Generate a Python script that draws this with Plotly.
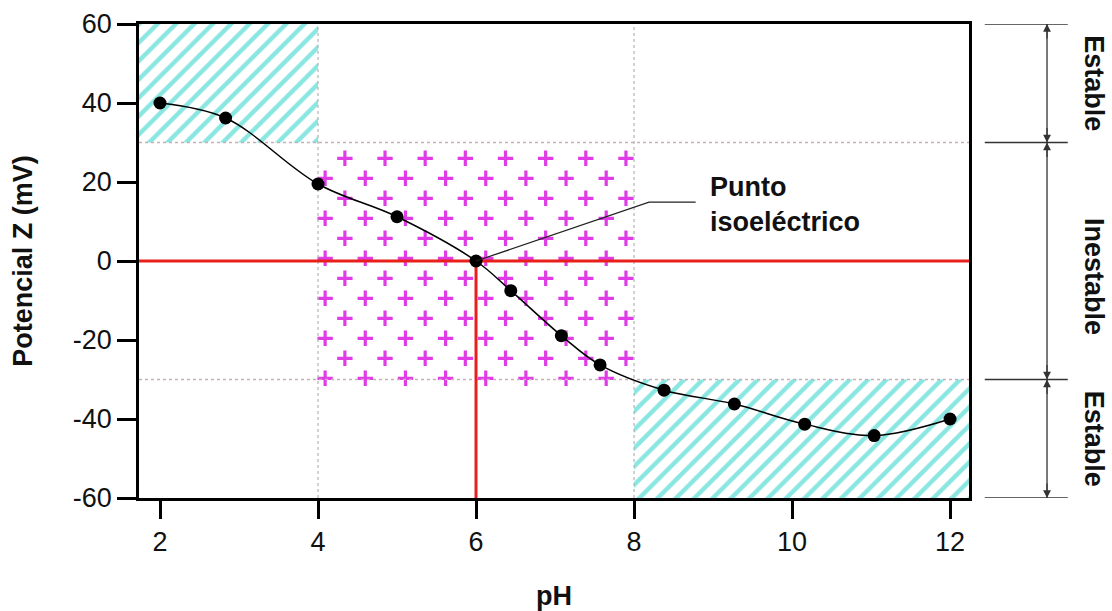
import numpy as np
import plotly.graph_objects as go

# ---- data ----
ph = [2.0, 2.83, 4.0, 5.0, 6.0, 6.44, 7.08, 7.57, 8.38, 9.27, 10.16, 11.04, 12.0]
zeta = [40.0, 36.2, 19.5, 11.2, 0.0, -7.5, -18.9, -26.3, -32.7, -36.2, -41.3, -44.2, -40.0]

x_range = [1.734, 12.24]
y_range = [-60, 60]
x_ticks = [2, 4, 6, 8, 10, 12]
y_ticks = [-60, -40, -20, 0, 20, 40, 60]
y_ticktext = ["-60", "-40", "-20", "0", "20", "40", "60"]

stable_limit = 30          # |zeta| above this -> stable
unstable_ph = [4, 8]       # pH band of the unstable region
iso_ph = 6.0               # isoelectric point

zone_labels = ["Estable", "Inestable", "Estable"]
zone_centers = [45, -4, -45]

FONT = "Liberation Sans, Arial, sans-serif"
CYAN = "#14cdc4"
MAGENTA = "#e03ce6"
RED = "#e8201c"
TXT = "#111"

fig = go.Figure()

# hatched stable regions
def rect(x0, x1, y0, y1):
    return [x0, x1, x1, x0, x0], [y0, y0, y1, y1, y0]

for (x0, x1, y0, y1) in [(x_range[0], unstable_ph[0], stable_limit, y_range[1]),
                         (unstable_ph[1], x_range[1], y_range[0], -stable_limit)]:
    xs, ys = rect(x0, x1, y0, y1)
    fig.add_trace(go.Scatter(
        x=xs, y=ys, mode="lines", fill="toself", line=dict(width=0),
        fillcolor="rgba(0,0,0,0)",
        fillpattern=dict(shape="/", fgcolor=CYAN, bgcolor="rgba(255,255,255,0)",
                         size=13, solidity=0.34),
        hoverinfo="skip", showlegend=False))

# plus texture of the unstable region (staggered grid)
row_step = 2 * stable_limit / 11.85
col_step = (unstable_ph[1] - unstable_ph[0]) / 7.87
px, py = [], []
for k in range(12):
    yv = stable_limit - 4 - k * row_step
    start = unstable_ph[0] + (0.34 if k % 2 == 0 else 0.09)
    for j in range(8):
        px.append(start + j * col_step)
        py.append(yv)
fig.add_trace(go.Scatter(
    x=px, y=py, mode="markers",
    marker=dict(symbol="cross-thin", size=11, color=MAGENTA,
                line=dict(color=MAGENTA, width=3.2)),
    hoverinfo="skip", showlegend=False))

# dotted guide lines
for yv in [stable_limit, -stable_limit]:
    fig.add_trace(go.Scatter(x=x_range, y=[yv, yv], mode="lines",
                             line=dict(color="#c9aeb6", width=1.3, dash="dot"),
                             hoverinfo="skip", showlegend=False))
for xv in unstable_ph:
    fig.add_trace(go.Scatter(x=[xv, xv], y=y_range, mode="lines",
                             line=dict(color="#b8b8b8", width=1.3, dash="dot"),
                             hoverinfo="skip", showlegend=False))

# red reference lines
fig.add_trace(go.Scatter(x=x_range, y=[0, 0], mode="lines",
                         line=dict(color=RED, width=3), hoverinfo="skip", showlegend=False))
fig.add_trace(go.Scatter(x=[iso_ph, iso_ph], y=[y_range[0], 0], mode="lines",
                         line=dict(color=RED, width=3), hoverinfo="skip", showlegend=False))

# measured curve
fig.add_trace(go.Scatter(
    x=ph, y=zeta, mode="lines+markers",
    line=dict(color="black", width=1.5, shape="spline", smoothing=1.0),
    marker=dict(color="black", size=13),
    showlegend=False))

shapes = []
# callout connector
shapes.append(dict(type="path", xref="x", yref="y",
                   path=f"M {iso_ph},0 L 8.19,14.9 L 8.78,14.9",
                   line=dict(color="#222", width=1.3), layer="above"))

# right-side dimension lines
XV = 1.094
for yv in [60, 30, -30, -60]:
    shapes.append(dict(type="line", xref="paper", yref="y", x0=1.019, x1=1.119,
                       y0=yv, y1=yv, line=dict(color="#333", width=1.3)))
shapes.append(dict(type="line", xref="paper", yref="y", x0=XV, x1=XV,
                   y0=60, y1=-60, line=dict(color="#333", width=1.3)))

annotations = [
    dict(x=8.94, y=14.4, xref="x", yref="y", text="<b>Punto<br>isoeléctrico</b>",
         showarrow=False, xanchor="left", yanchor="middle", align="left",
         font=dict(family=FONT, size=27, color=TXT)),
]
for lab, yc in zip(zone_labels, zone_centers):
    annotations.append(dict(x=1.1505, y=yc, xref="paper", yref="y", text=f"<b>{lab}</b>",
                            textangle=90, showarrow=False, xanchor="center",
                            yanchor="middle", borderpad=0,
                            font=dict(family=FONT, size=27, color=TXT)))
# arrowheads
for (yv, d) in [(60, 1), (30, -1), (30, 1), (-30, -1), (-30, 1), (-60, -1)]:
    annotations.append(dict(x=XV, y=yv, xref="paper", yref="y", ax=0, ay=16 * d,
                            axref="pixel", ayref="pixel", text="", showarrow=True,
                            arrowhead=2, arrowsize=1.3, arrowwidth=1.2,
                            arrowcolor="#333", standoff=0))

fig.update_layout(
    width=1112, height=611,
    margin=dict(l=139, r=143, t=24, b=113, autoexpand=False),
    paper_bgcolor="white", plot_bgcolor="white",
    font=dict(family=FONT, size=27, color=TXT),
    shapes=shapes, annotations=annotations,
    xaxis=dict(range=x_range, tickvals=x_ticks, ticks="outside", ticklen=18,
               tickwidth=2.5, tickcolor="black", showline=True, linecolor="black",
               linewidth=2.5, mirror=True, showgrid=False, zeroline=False,
               automargin=False,
               tickfont=dict(family=FONT, size=27, color=TXT),
               title=dict(text="pH", standoff=33,
                          font=dict(family=FONT, size=27, color=TXT, weight="bold"))),
    yaxis=dict(range=y_range, tickvals=y_ticks, ticktext=y_ticktext, ticks="outside",
               ticklen=19, tickwidth=2.5, tickcolor="black", showline=True,
               linecolor="black", linewidth=2.5, mirror=True, showgrid=False,
               zeroline=False, automargin=False,
               tickfont=dict(family=FONT, size=27, color=TXT),
               title=dict(text="Potencial Z (mV)", standoff=33,
                          font=dict(family=FONT, size=27, color=TXT, weight="bold"))),
)

# remove the browser's default 8px body margin so the figure fills the window exactly
fig.write_html("out.html", config={"displayModeBar": False},
               post_script="document.body.style.margin='0px';")
